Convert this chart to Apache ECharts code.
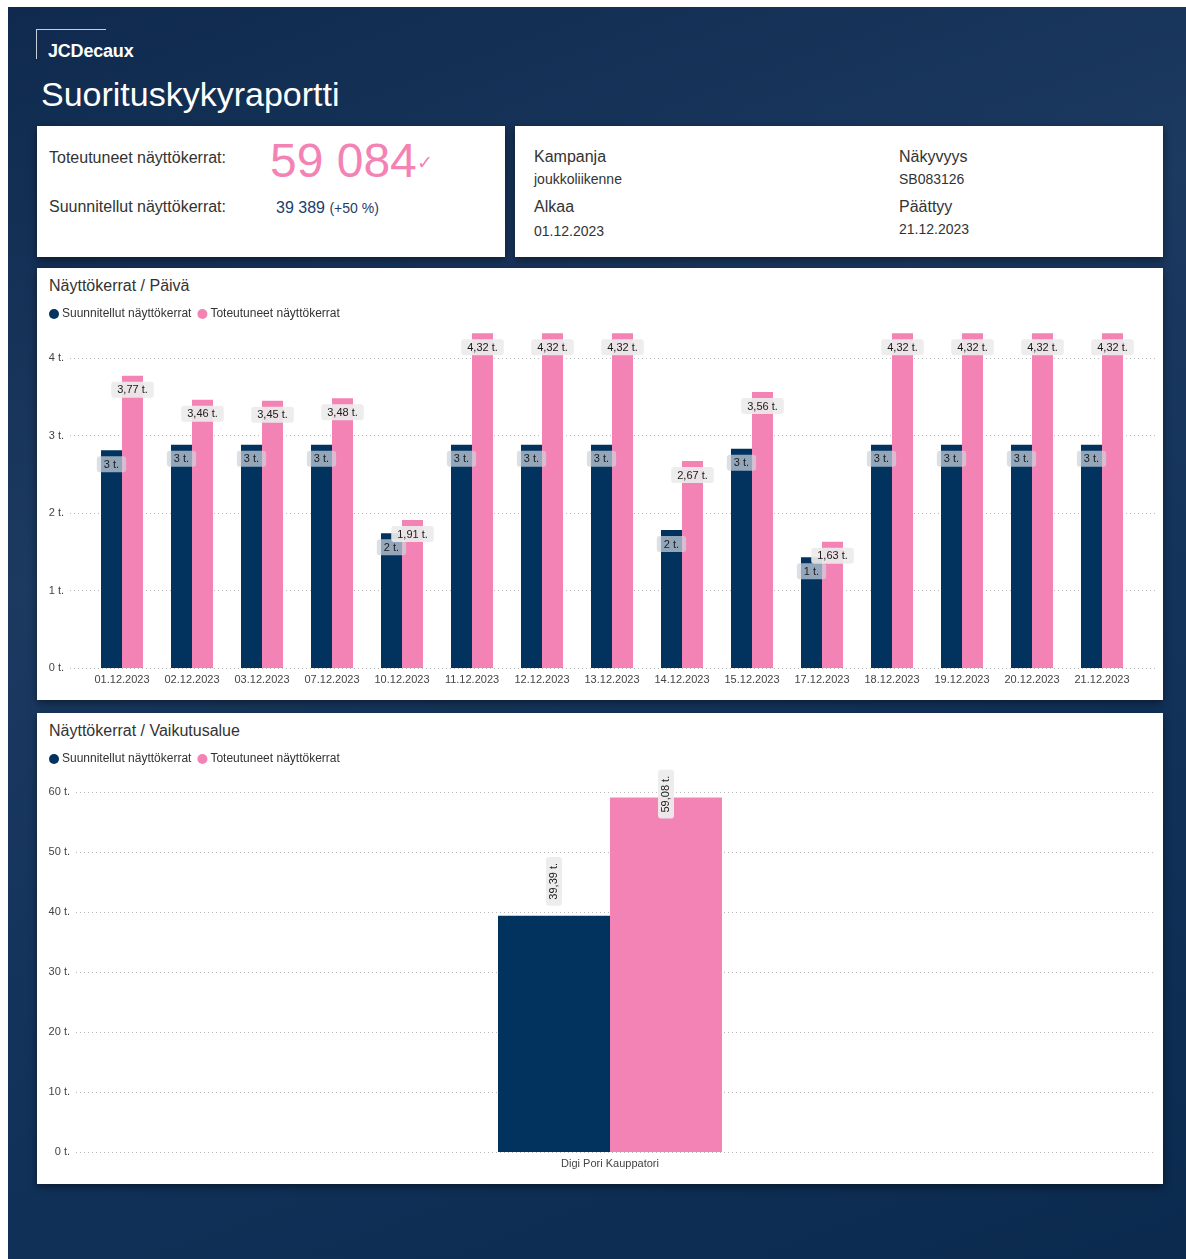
<!DOCTYPE html>
<html><head><meta charset="utf-8">
<script src="https://cdn.jsdelivr.net/npm/echarts@6/dist/echarts.min.js"></script>
<style>
html,body{margin:0;padding:0;width:1186px;height:1259px;overflow:hidden;background:#fff;font-family:"Liberation Sans",Arial,sans-serif;}
#bg{position:absolute;left:8px;top:7px;width:1178px;height:1252px;background:linear-gradient(160deg,#0f2a4e 0%,#1c3960 35%,#12325a 65%,#0b2a4e 100%);}
.card{position:absolute;background:#fff;box-shadow:0 3px 8px rgba(0,0,0,0.45);}
.t{position:absolute;white-space:nowrap;line-height:1;color:#333;}
#chart{position:absolute;left:0;top:0;width:1186px;height:1259px;}
.corner{position:absolute;left:36px;top:29px;width:69px;height:29px;border-left:1px solid #c9ced6;border-top:1px solid #c9ced6;}
</style></head>
<body>
<div id="bg"></div>
<div class="corner"></div>
<div class="t" style="left:48px;top:42px;font-size:18px;font-weight:bold;color:#fff;letter-spacing:-0.2px;">JCDecaux</div>
<div class="t" style="left:41px;top:77px;font-size:34px;color:#fff;">Suorituskykyraportti</div>

<div class="card" style="left:37px;top:126px;width:468px;height:131px;"></div>
<div class="card" style="left:515px;top:126px;width:648px;height:131px;"></div>
<div class="card" style="left:37px;top:268px;width:1126px;height:432px;"></div>
<div class="card" style="left:37px;top:713px;width:1126px;height:471px;"></div>

<div class="t" style="left:49px;top:150px;font-size:16px;">Toteutuneet näyttökerrat:</div>
<div class="t" style="left:270px;top:137px;font-size:48px;color:#f383b5;">59 084<span style="font-size:19px;vertical-align:8px;">&#10003;</span></div>
<div class="t" style="left:49px;top:199px;font-size:16px;">Suunnitellut näyttökerrat:</div>
<div class="t" style="left:276px;top:200px;font-size:16px;color:#1d3d6b;">39 389 <span style="font-size:14px;">(+50 %)</span></div>

<div class="t" style="left:534px;top:149px;font-size:16px;">Kampanja</div>
<div class="t" style="left:534px;top:172px;font-size:14px;">joukkoliikenne</div>
<div class="t" style="left:534px;top:199px;font-size:16px;">Alkaa</div>
<div class="t" style="left:534px;top:224px;font-size:14px;">01.12.2023</div>
<div class="t" style="left:899px;top:149px;font-size:16px;">Näkyvyys</div>
<div class="t" style="left:899px;top:172px;font-size:14px;">SB083126</div>
<div class="t" style="left:899px;top:199px;font-size:16px;">Päättyy</div>
<div class="t" style="left:899px;top:222px;font-size:14px;">21.12.2023</div>

<div class="t" style="left:49px;top:278px;font-size:16px;">Näyttökerrat / Päivä</div>
<div class="t" style="left:49px;top:723px;font-size:16px;">Näyttökerrat / Vaikutusalue</div>

<div id="chart"></div>
<script>
const categories = ['01.12.2023','02.12.2023','03.12.2023','07.12.2023','10.12.2023','11.12.2023','12.12.2023','13.12.2023','14.12.2023','15.12.2023','17.12.2023','18.12.2023','19.12.2023','20.12.2023','21.12.2023'];
const plannedDaily = [2.81,2.88,2.88,2.88,1.74,2.88,2.88,2.88,1.78,2.83,1.43,2.88,2.88,2.88,2.88];
const actualDaily = [3.77,3.46,3.45,3.48,1.91,4.32,4.32,4.32,2.67,3.56,1.63,4.32,4.32,4.32,4.32];
const areaCategories = ['Digi Pori Kauppatori'];
const plannedArea = [39.389];
const actualArea = [59.084];
const dayTickMax = 4;
const dayTickStep = 1;
const areaTickMax = 60;
const areaTickStep = 10;

const NAVY = '#02335e', PINK = '#f383b5';
const nameP = 'Suunnitellut näyttökerrat', nameA = 'Toteutuneet näyttökerrat';
const fmt2 = v => v.toFixed(2).replace('.', ',') + ' t.';
const tickFmt = v => v + ' t.';
const font = '"Liberation Sans", Arial, sans-serif';

const chart = echarts.init(document.getElementById('chart'), null, {renderer:'canvas'});
const splitLine = {show:true, lineStyle:{type:[1,3], color:'#b9b9b9', width:1}};
const legendBase = {icon:'circle', itemWidth:10, itemHeight:10, itemGap:6, left:44,
  textStyle:{fontSize:12, color:'#333', fontFamily:font, padding:[0,0,0,-2]}, data:[nameP, nameA]};

chart.setOption({
  backgroundColor:'transparent',
  textStyle:{fontFamily:font},
  legend:[Object.assign({top:303}, legendBase), Object.assign({top:748}, legendBase)],
  grid:[
    {left:87, right:49, top:280.5, height:387.5},
    {left:70, right:31, top:358, height:310},
    {left:65, right:31, top:792, height:360},
    {left:76, right:31, top:792, height:360}
  ],
  xAxis:[
    {gridIndex:0, type:'category', data:categories, axisLine:{show:false}, axisTick:{show:false},
      axisLabel:{interval:0, fontSize:11, color:'#444', margin:6}},
    {gridIndex:1, type:'value', show:false},
    {gridIndex:2, type:'category', data:areaCategories, axisLine:{show:false}, axisTick:{show:false},
      axisLabel:{fontSize:11, color:'#444', margin:6}},
    {gridIndex:3, type:'value', show:false}
  ],
  yAxis:[
    {gridIndex:0, type:'value', min:0, max:5, interval:1, show:false, splitLine:{show:false}},
    {gridIndex:1, type:'value', min:0, max:dayTickMax, interval:dayTickStep, axisLine:{show:false}, axisTick:{show:false},
      axisLabel:{formatter:tickFmt, fontSize:11, color:'#444', margin:6}, splitLine:splitLine},
    {gridIndex:2, type:'value', min:0, max:areaTickMax, show:false, splitLine:{show:false}},
    {gridIndex:3, type:'value', min:0, max:areaTickMax, interval:areaTickStep, axisLine:{show:false}, axisTick:{show:false},
      axisLabel:{formatter:tickFmt, fontSize:11, color:'#444', margin:6}, splitLine:splitLine}
  ],
  series:[
    {name:nameP, type:'bar', xAxisIndex:0, yAxisIndex:0, data:plannedDaily, barWidth:21, barGap:'0%',
      itemStyle:{color:NAVY},
      label:{show:true, position:'insideTop', distance:6, formatter:p=>Math.round(p.value)+' t.',
        fontSize:11, color:'#1a1a1a', backgroundColor:'rgba(205,212,222,0.72)', padding:[3,7,2,7], borderRadius:3}},
    {name:nameA, type:'bar', xAxisIndex:0, yAxisIndex:0, data:actualDaily, barWidth:21, barGap:'0%',
      itemStyle:{color:PINK},
      label:{show:true, position:'insideTop', distance:6, formatter:p=>fmt2(p.value),
        fontSize:11, color:'#1a1a1a', backgroundColor:'rgba(236,236,236,0.92)', padding:[3,6,2,6], borderRadius:3}},
    {name:nameP, type:'bar', xAxisIndex:2, yAxisIndex:2, data:plannedArea, barWidth:112, barGap:'0%',
      itemStyle:{color:NAVY},
      label:{show:true, position:'top', distance:10, rotate:90, align:'left', verticalAlign:'middle',
        formatter:p=>fmt2(p.value), fontSize:11, color:'#1a1a1a', backgroundColor:'rgba(236,236,236,0.95)', padding:[3,6,2,6], borderRadius:3}},
    {name:nameA, type:'bar', xAxisIndex:2, yAxisIndex:2, data:actualArea, barWidth:112, barGap:'0%',
      itemStyle:{color:PINK},
      label:{show:true, position:'top', distance:10, offset:[-31,0], rotate:90, align:'left', verticalAlign:'middle',
        formatter:p=>fmt2(p.value), fontSize:11, color:'#1a1a1a', backgroundColor:'rgba(236,236,236,0.95)', padding:[3,6,2,6], borderRadius:3}}
  ]
});
</script>
</body></html>
